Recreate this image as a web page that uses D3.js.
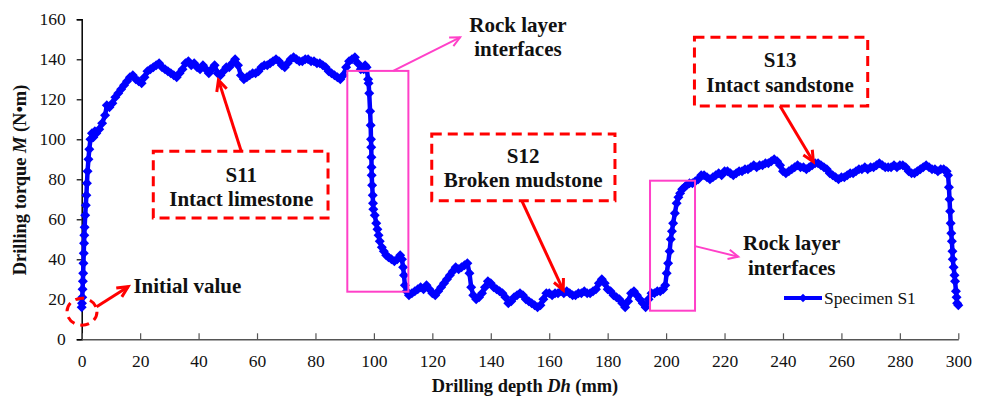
<!DOCTYPE html>
<html>
<head>
<meta charset="utf-8">
<script src="https://cdn.jsdelivr.net/npm/d3@7"></script>
<style>
  html, body { margin: 0; padding: 0; background: #fff; }
  svg { display: block; }
  text { font-family: "Liberation Serif", "Times New Roman", serif; }
</style>
</head>
<body>
<svg id="chart" width="986" height="402"></svg>
<script>
// Drilling depth (mm) and drilling torque (N·m) for specimen S1
const depth = [
  0, 0.1, 0.2, 0.3, 0.4, 0.5, 0.6, 0.7, 0.8, 0.9, 1.0, 1.2, 1.4, 1.6, 1.8, 2.0, 2.3, 2.6, 3.0, 3.5,
  4.0, 4.5, 5.0, 6.0, 7.0, 8.0, 8.6, 9.5, 10.5, 11.5, 12.5, 13.5, 14.5, 15.5, 16.5, 17.5, 18.5, 19.5, 20.5, 21.5,
  22.5, 23.5, 24.5, 25.5, 26.5, 27.5, 28.5, 29.5, 30.5, 31.5, 32.5, 33.5, 34.5, 35.5, 36.5, 37.5, 38.5, 39.5, 40.5, 41.5,
  42.5, 43.5, 44.5, 45.5, 46.5, 47.5, 48.5, 49.5, 50.5, 51.5, 52.5, 53.5, 54.5, 55.5, 56.5, 57.5, 58.5, 59.5, 60.5, 61.5,
  62.5, 63.5, 64.5, 65.5, 66.5, 67.5, 68.5, 69.5, 70.5, 71.5, 72.5, 73.5, 74.5, 75.5, 76.5, 77.5, 78.5, 79.5, 80.5, 81.5,
  82.5, 83.5, 84.5, 85.5, 86.5, 87.5, 88.5, 89.5, 90.5, 91.5, 92.5, 93.5, 94.5, 95.5, 96.5, 97.0, 97.5, 98.0, 98.2, 98.4,
  98.7, 98.9, 99.0, 99.1, 99.15, 99.2, 99.25, 99.4, 99.6, 99.7, 99.8, 100.3, 100.8, 101.2, 101.6, 102.0, 102.7, 103.4, 104.2, 105.0,
  106.0, 107.0, 108.0, 109.0, 109.6, 110.0, 110.3, 110.6, 111.2, 112.0, 113.0, 114.0, 115.0, 116.0, 117.0, 118.0, 119.0, 120.0, 121.0, 122.0,
  123.0, 124.0, 125.0, 126.0, 127.0, 128.0, 129.0, 130.0, 131.0, 132.0, 132.7, 133.3, 134.0, 135.0, 136.0, 137.0, 138.0, 139.0, 140.0, 141.0,
  142.0, 143.0, 144.0, 145.0, 146.0, 147.0, 148.0, 149.0, 150.0, 151.0, 152.0, 153.0, 154.0, 155.0, 156.0, 157.0, 158.0, 159.0, 160.0, 161.0,
  162.0, 163.0, 164.0, 165.0, 166.0, 167.0, 168.0, 169.0, 170.0, 171.0, 172.0, 173.0, 174.0, 175.0, 176.0, 177.0, 178.0, 179.0, 180.0, 181.0,
  182.0, 183.0, 184.0, 185.0, 186.0, 187.0, 188.0, 189.0, 190.0, 191.0, 192.0, 193.0, 194.0, 195.0, 196.0, 197.0, 198.0, 199.0, 199.7, 200.2,
  200.7, 201.2, 201.6, 202.0, 202.4, 203.0, 203.6, 204.2, 204.8, 205.5, 206.3, 207.0, 208.0, 209.0, 210.0, 211.0, 212.0, 213.0, 214.0, 215.0,
  216.0, 217.0, 218.0, 219.0, 220.0, 221.0, 222.0, 223.0, 224.0, 225.0, 226.0, 227.0, 228.0, 229.0, 230.0, 231.0, 232.0, 233.0, 234.0, 235.0,
  236.0, 237.0, 238.0, 239.0, 240.0, 241.0, 242.0, 243.0, 244.0, 245.0, 246.0, 247.0, 248.0, 249.0, 250.0, 251.0, 252.0, 253.0, 254.0, 255.0,
  256.0, 257.0, 258.0, 259.0, 260.0, 261.0, 262.0, 263.0, 264.0, 265.0, 266.0, 267.0, 268.0, 269.0, 270.0, 271.0, 272.0, 273.0, 274.0, 275.0,
  276.0, 277.0, 278.0, 279.0, 280.0, 281.0, 282.0, 283.0, 284.0, 285.0, 286.0, 287.0, 288.0, 289.0, 290.0, 291.0, 292.0, 293.0, 294.0, 295.0,
  296.0, 296.5, 296.8, 297.0, 297.2, 297.4, 297.6, 297.8, 298.0, 298.1, 298.4, 298.7, 298.9, 299.2, 299.4, 299.6, 300.0
];
const torque = [
  16, 18, 21, 25, 29, 33, 38, 43, 48, 52, 56, 62, 67, 72, 78, 84, 90, 95, 100, 103,
  101, 104, 103, 105, 108, 112, 117, 116, 118, 121, 123, 125, 127, 129, 131, 132, 130, 129, 128, 131,
  134, 135, 136, 137, 138, 136, 135, 134, 133, 132, 131, 133, 135, 138, 139, 137, 138, 136, 135, 137,
  135, 133, 135, 137, 133, 132, 134, 136, 136, 138, 140, 137, 132, 130, 131, 132, 133, 133, 134, 136,
  137, 137, 138, 139, 140, 139, 137, 136, 138, 140, 141, 140, 139, 139, 140, 140, 139, 139, 138, 138,
  137, 136, 134, 133, 132, 131, 130, 132, 136, 139, 140, 141, 138, 135, 135, 137, 136, 130, 128, 123,
  114, 107, 100, 96, 91, 86, 82, 77, 72, 68, 65, 62, 58, 55, 52, 49, 46, 44, 42, 41,
  40, 39, 40, 42, 40, 36, 32, 27, 24, 22, 23, 24, 25, 26, 25, 27, 25, 23, 22, 24,
  26, 28, 30, 32, 34, 36, 35, 36, 37, 38, 33, 26, 22, 20, 21, 23, 26, 29, 28, 26,
  25, 24, 23, 21, 18, 19, 21, 22, 23, 22, 20, 19, 18, 17, 16, 17, 20, 23, 23, 22,
  23, 23, 24, 23, 24, 23, 22, 22, 23, 23, 24, 23, 23, 24, 25, 28, 30, 28, 25, 24,
  22, 21, 20, 18, 16, 19, 23, 24, 22, 20, 18, 16, 20, 23, 23, 24, 24, 25, 27, 33,
  38, 44, 50, 54, 58, 63, 68, 71, 73, 75, 76, 77, 78, 78, 79, 80, 82, 82, 81, 80,
  81, 82, 83, 82, 84, 84, 83, 82, 83, 84, 84, 85, 85, 86, 87, 86, 87, 87, 88, 88,
  89, 90, 89, 87, 84, 83, 84, 85, 86, 87, 86, 86, 85, 86, 87, 88, 88, 87, 86, 85,
  83, 82, 81, 80, 81, 81, 82, 83, 83, 84, 85, 85, 86, 85, 86, 86, 87, 88, 87, 86,
  86, 86, 87, 86, 87, 87, 86, 84, 83, 83, 84, 85, 86, 87, 86, 85, 85, 84, 85, 85,
  84, 82, 76, 70, 64, 58, 53, 49, 44, 40, 36, 32, 29, 24, 21, 18, 17
];

const xTicks = [0, 20, 40, 60, 80, 100, 120, 140, 160, 180, 200, 220, 240, 260, 280, 300];
const yTicks = [0, 20, 40, 60, 80, 100, 120, 140, 160];
const seriesName = "Specimen S1";

// Annotation boxes (data units) and their labels
const layerBoxes = [
  { x0: 24.5, x1: 84.3, y0: 60.6, y1: 94.0, lines: ["S11", "Intact limestone"], tx: 54.6, ty: [78.9, 66.6],
    from: [54.6, 94.0], to: [46.8, 129.6] },
  { x0: 119.8, x1: 182.5, y0: 69.3, y1: 102.6, lines: ["S12", "Broken mudstone"], tx: 151.1, ty: [88.0, 76.3],
    from: [150.6, 69.3], to: [164.8, 24.6] },
  { x0: 209.7, x1: 269.0, y0: 116.6, y1: 151.0, lines: ["S13", "Intact sandstone"], tx: 239.0, ty: [136.3, 123.6],
    from: [239.0, 116.6], to: [250.4, 88.8] }
];
const interfaceBoxes = [
  { x0: 90.9, x1: 111.8, y0: 23.8, y1: 134.2, from: [106.6, 134.2], to: [129.5, 151.0],
    tx: 149.3, ty: [153.8, 141.7] },
  { x0: 194.5, x1: 209.9, y0: 14.3, y1: 79.3, from: [209.9, 46.6], to: [224.7, 41.3],
    tx: 243.0, ty: [44.6, 32.2] }
];

const svg = d3.select("#chart");
const x = d3.scaleLinear().domain([0, 300]).range([81.7, 958.3]);
const y = d3.scaleLinear().domain([0, 160]).range([339.3, 19.3]);

const blue = "#0000ff", red = "#ff0000", pink = "#ff40c8";
const serif = "Liberation Serif";

// Axes
const yAxis = svg.append("g").attr("transform", `translate(${x(0)},0)`)
  .call(d3.axisLeft(y).tickValues(yTicks).tickSize(5).tickPadding(11).tickFormat(d3.format("d")));
yAxis.attr("font-family", serif);
yAxis.select(".domain").attr("stroke", "#000").attr("stroke-width", 1.5);
yAxis.selectAll(".tick line").attr("stroke", "#000").attr("stroke-width", 1.2);
yAxis.selectAll("text").attr("font-size", 17.5).attr("fill", "#111");

const xAxis = svg.append("g").attr("transform", `translate(0,${y(0)})`)
  .call(d3.axisBottom(x).tickValues(xTicks).tickSizeInner(-6).tickSizeOuter(0).tickPadding(15).tickFormat(d3.format("d")));
xAxis.attr("font-family", serif);
xAxis.select(".domain").attr("stroke", "#555").attr("stroke-width", 1.5);
xAxis.selectAll(".tick line").attr("stroke", "#555").attr("stroke-width", 1.2);
xAxis.selectAll("text").attr("font-size", 17.5).attr("fill", "#111");

// Axis titles
const xt = svg.append("text").attr("x", 525).attr("y", 392).attr("text-anchor", "middle")
  .attr("font-size", 18.4).attr("font-weight", "bold").attr("fill", "#111");
xt.append("tspan").text("Drilling depth ");
xt.append("tspan").attr("font-style", "italic").text("Dh");
xt.append("tspan").text(" (mm)");

const yt = svg.append("text").attr("transform", "translate(26,180) rotate(-90)").attr("text-anchor", "middle")
  .attr("font-size", 18.4).attr("font-weight", "bold").attr("fill", "#111");
yt.append("tspan").text("Drilling torque ");
yt.append("tspan").attr("font-style", "italic").text("M");
yt.append("tspan").text(" (N\u2022m)");

// Series line with diamond markers
const pts = depth.map((d, i) => [d, torque[i]]);
const diamond = r => `M0,${-r}L${r},0L0,${r}L${-r},0Z`;
svg.append("path").datum(pts)
  .attr("fill", "none").attr("stroke", blue).attr("stroke-width", 4.5).attr("stroke-linejoin", "round")
  .attr("d", d3.line().x(p => x(p[0])).y(p => y(p[1])));
svg.append("g").selectAll("path").data(pts).join("path")
  .attr("transform", p => `translate(${x(p[0])},${y(p[1])})`)
  .attr("d", diamond(5)).attr("fill", blue);

// Arrow helper: shaft plus open V head
function arrow(g, x1, y1, x2, y2, color, width, head) {
  const a = Math.atan2(y2 - y1, x2 - x1);
  g.append("line").attr("x1", x1).attr("y1", y1).attr("x2", x2).attr("y2", y2)
    .attr("stroke", color).attr("stroke-width", width);
  const h = d3.path();
  h.moveTo(x2 - head * Math.cos(a - 0.45), y2 - head * Math.sin(a - 0.45));
  h.lineTo(x2, y2);
  h.lineTo(x2 - head * Math.cos(a + 0.45), y2 - head * Math.sin(a + 0.45));
  g.append("path").attr("d", h.toString()).attr("fill", "none")
    .attr("stroke", color).attr("stroke-width", width).attr("stroke-linejoin", "miter");
}

const ann = svg.append("g");
const annSize = 21;

// Interface rectangles
interfaceBoxes.forEach(b => {
  ann.append("rect").attr("x", x(b.x0)).attr("y", y(b.y1))
    .attr("width", x(b.x1) - x(b.x0)).attr("height", y(b.y0) - y(b.y1))
    .attr("fill", "none").attr("stroke", pink).attr("stroke-width", 2);
  arrow(ann, x(b.from[0]), y(b.from[1]), x(b.to[0]), y(b.to[1]), pink, 2, 11);
  ["Rock layer", "interfaces"].forEach((t, i) => {
    ann.append("text").attr("x", x(b.tx)).attr("y", y(b.ty[i])).attr("text-anchor", "middle")
      .attr("font-size", annSize).attr("font-weight", "bold").attr("fill", "#111").text(t);
  });
});

// Rock-type boxes
layerBoxes.forEach(b => {
  ann.append("rect").attr("x", x(b.x0)).attr("y", y(b.y1))
    .attr("width", x(b.x1) - x(b.x0)).attr("height", y(b.y0) - y(b.y1))
    .attr("fill", "#fff").attr("stroke", red).attr("stroke-width", 3)
    .attr("stroke-dasharray", "10,6");
  b.lines.forEach((t, i) => {
    ann.append("text").attr("x", x(b.tx)).attr("y", y(b.ty[i])).attr("text-anchor", "middle")
      .attr("font-size", annSize).attr("font-weight", "bold").attr("fill", "#111").text(t);
  });
  arrow(ann, x(b.from[0]), y(b.from[1]), x(b.to[0]), y(b.to[1]), red, 3, 12);
});

// Initial value marker
ann.append("ellipse").attr("cx", x(0.1)).attr("cy", y(13.8)).attr("rx", 15).attr("ry", 13.5)
  .attr("fill", "none").attr("stroke", red).attr("stroke-width", 3).attr("stroke-dasharray", "9,6");
arrow(ann, x(5.1), y(16.3), x(15.9), y(26.3), red, 3, 12);
ann.append("text").attr("x", x(17.7)).attr("y", y(23)).attr("font-size", annSize)
  .attr("font-weight", "bold").attr("fill", "#111").text("Initial value");

// Legend
const lg = svg.append("g").attr("transform", "translate(784,298)");
lg.append("line").attr("x1", 0).attr("x2", 38).attr("y1", 0).attr("y2", 0)
  .attr("stroke", blue).attr("stroke-width", 4);
lg.append("path").attr("transform", "translate(19,0)").attr("d", diamond(4.2)).attr("fill", blue);
lg.append("text").attr("x", 40).attr("y", 6).attr("font-size", 17.5).attr("fill", "#111").text(seriesName);
</script>
</body>
</html>
